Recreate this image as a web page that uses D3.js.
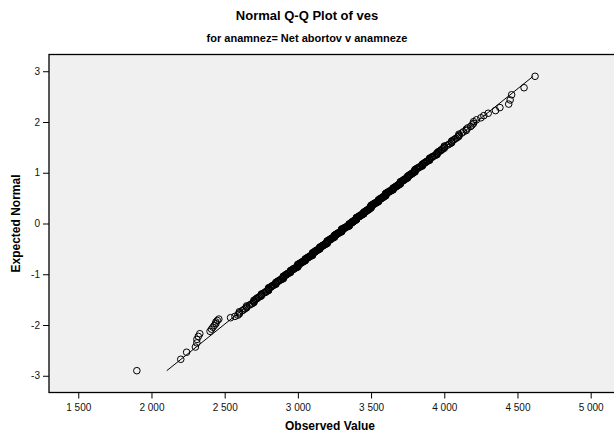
<!DOCTYPE html>
<html>
<head>
<meta charset="utf-8">
<script src="https://cdn.jsdelivr.net/npm/d3@7"></script>
<style>
body { margin: 0; background: #fff; }
text { font-family: Arial, "Liberation Sans", sans-serif; fill: #000; }
.tick text { font-size: 10px; fill: #111; }
.tick line { stroke: #000; }
</style>
</head>
<body>
<svg id="chart" width="614" height="436"></svg>
<script>
// observed birth weights (ves, g) and how often each one occurs
const ves = [
  1900, 2200, 2240, 2300, 2310, 2320, 2330, 2400, 2410, 2420, 2430, 2440, 2450, 2460,
  2540, 2570, 2590,
  2600, 2620, 2630, 2640, 2650, 2670, 2680, 2690,
  2700, 2710, 2720, 2730, 2740, 2750, 2760, 2770, 2780, 2790,
  2800, 2810, 2820, 2830, 2840, 2850, 2860, 2870, 2880, 2890,
  2900, 2910, 2920, 2930, 2940, 2950, 2960, 2970, 2980, 2990,
  3000, 3010, 3020, 3030, 3040, 3050, 3060, 3070, 3080, 3090,
  3100, 3110, 3120, 3130, 3140, 3150, 3160, 3170, 3180, 3190,
  3200, 3210, 3220, 3230, 3240, 3250, 3260, 3270, 3280, 3290,
  3300, 3310, 3320, 3330, 3340, 3350, 3360, 3370, 3380, 3390,
  3400, 3410, 3420, 3430, 3440, 3450, 3460, 3470, 3480, 3490,
  3500, 3510, 3520, 3530, 3540, 3550, 3560, 3570, 3580, 3590,
  3600, 3610, 3620, 3630, 3640, 3650, 3660, 3670, 3680, 3690,
  3700, 3710, 3720, 3730, 3740, 3750, 3760, 3770, 3780, 3790,
  3800, 3810, 3820, 3830, 3840, 3850, 3860, 3870, 3880, 3890,
  3900, 3910, 3920, 3930, 3940, 3950, 3960, 3970, 3980, 3990,
  4000, 4020, 4030, 4040, 4050, 4060, 4070, 4080, 4090,
  4100, 4120, 4130, 4150, 4160, 4180, 4190,
  4200, 4220, 4250, 4270, 4300,
  4350, 4380, 4440, 4450, 4460, 4545, 4620
];
const freq = [
  1, 1, 1, 1, 2, 1, 1, 1, 1, 1, 1, 2, 1, 1,
  1, 1, 1,
  3, 1, 1, 1, 3, 1, 1, 1,
  4, 1, 2, 1, 1, 4, 1, 1, 2, 1,
  6, 1, 2, 2, 1, 5, 2, 2, 2, 1,
  7, 2, 3, 2, 2, 6, 2, 3, 2, 2,
  9, 2, 3, 3, 2, 7, 3, 3, 3, 2,
  10, 3, 4, 3, 3, 8, 3, 4, 3, 3,
  11, 3, 4, 4, 3, 9, 4, 4, 3, 3,
  12, 2, 4, 3, 2, 10, 4, 5, 4, 4,
  10, 3, 4, 4, 3, 8, 4, 4, 4, 5,
  11, 3, 4, 3, 3, 8, 4, 3, 4, 3,
  10, 3, 3, 3, 2, 7, 3, 3, 3, 3,
  8, 2, 3, 3, 2, 6, 3, 2, 3, 2,
  7, 2, 2, 2, 1, 5, 2, 2, 2, 1,
  5, 1, 2, 1, 1, 4, 2, 1, 2, 1,
  4, 1, 1, 1, 3, 1, 1, 1, 1,
  3, 1, 1, 2, 1, 1, 1,
  2, 1, 1, 1, 1,
  1, 1, 1, 1, 1, 1, 1
];
const xTicks = [1500, 2000, 2500, 3000, 3500, 4000, 4500, 5000];
const yTicks = [-3, -2, -1, 0, 1, 2, 3];

const title = "Normal Q-Q Plot of ves";
const subtitle = "for anamnez= Net abortov v anamneze";

// inverse of the standard normal cdf (Acklam)
function qnorm(p) {
    const a = [-3.969683028665376e+01, 2.209460984245205e+02, -2.759285104469687e+02,
               1.383577518672690e+02, -3.066479806614716e+01, 2.506628277459239e+00];
    const b = [-5.447609879822406e+01, 1.615858368580409e+02, -1.556989798598866e+02,
               6.680131188771972e+01, -1.328068155288572e+01];
    const c = [-7.784894002430293e-03, -3.223964580411365e-01, -2.400758277161838e+00,
               -2.549732539343734e+00, 4.374664141464968e+00, 2.938163982698783e+00];
    const d = [7.784695709041462e-03, 3.224671290700398e-01, 2.445134137142996e+00,
               3.754408661907416e+00];
    const plow = 0.02425;
    let q, r;
    if (p < plow) {
        q = Math.sqrt(-2 * Math.log(p));
        return (((((c[0]*q + c[1])*q + c[2])*q + c[3])*q + c[4])*q + c[5]) /
               ((((d[0]*q + d[1])*q + d[2])*q + d[3])*q + 1);
    }
    if (p > 1 - plow) {
        q = Math.sqrt(-2 * Math.log(1 - p));
        return -(((((c[0]*q + c[1])*q + c[2])*q + c[3])*q + c[4])*q + c[5]) /
                ((((d[0]*q + d[1])*q + d[2])*q + d[3])*q + 1);
    }
    q = p - 0.5;
    r = q * q;
    return (((((a[0]*r + a[1])*r + a[2])*r + a[3])*r + a[4])*r + a[5]) * q /
           (((((b[0]*r + b[1])*r + b[2])*r + b[3])*r + b[4])*r + 1);
}

let values = [];
ves.forEach((v, i) => { for (let k = 0; k < freq[i]; k++) values.push(v); });
values.sort((a, b) => a - b);
const n = values.length;
let points = values.map((v, i) => ({ x: v, z: qnorm((i + 1) / (n + 1)) }));

const mean = d3.mean(values);
const sd = d3.deviation(values);
const zExt = d3.extent(points, d => d.z);

const svg = d3.select("#chart");
const plotLeft = 49, plotRight = 617, plotTop = 54.5, plotBottom = 392.5;

const x = d3.scaleLinear().domain([1300, 5160]).range([plotLeft, 614.1]);
const y = d3.scaleLinear().domain([-3.33, 3.33]).range([plotBottom, plotTop]);

const fmt = d3.formatLocale({ decimal: ",", thousands: " ", grouping: [3], currency: ["", ""] }).format(",");

svg.append("rect")
    .attr("x", plotLeft).attr("y", plotTop)
    .attr("width", plotRight - plotLeft).attr("height", plotBottom - plotTop)
    .attr("fill", "#f0f0f0")
    .attr("stroke", "#000")
    .attr("stroke-width", 1.3);

let gx = svg.append("g")
    .attr("class", "axis")
    .attr("transform", `translate(0,${plotBottom})`)
    .call(d3.axisBottom(x).tickValues(xTicks).tickSize(6).tickPadding(5).tickFormat(fmt));
gx.select(".domain").remove();

let gy = svg.append("g")
    .attr("class", "axis")
    .attr("transform", `translate(${plotLeft},0)`)
    .call(d3.axisLeft(y).tickValues(yTicks).tickSize(6).tickPadding(3).tickFormat(d3.format("d")));
gy.select(".domain").remove();
gy.selectAll(".tick text").text(d => d < 0 ? "-" + Math.abs(d) : d);

// reference line
svg.append("line")
    .attr("x1", x(mean + sd * zExt[0])).attr("y1", y(zExt[0]))
    .attr("x2", x(mean + sd * zExt[1])).attr("y2", y(zExt[1]))
    .attr("stroke", "#000")
    .attr("stroke-width", 1);

svg.append("g")
    .selectAll("circle")
    .data(points)
    .enter()
    .append("circle")
        .attr("cx", d => x(d.x))
        .attr("cy", d => y(d.z))
        .attr("r", 3.3)
        .attr("fill", "none")
        .attr("stroke", "#000")
        .attr("stroke-width", 1);

svg.append("text")
    .attr("x", 307).attr("y", 20)
    .attr("text-anchor", "middle")
    .style("font-size", "13px").style("font-weight", "bold")
    .text(title);
svg.append("text")
    .attr("x", 307).attr("y", 42)
    .attr("text-anchor", "middle")
    .style("font-size", "11px").style("font-weight", "bold")
    .text(subtitle);

svg.append("text")
    .attr("x", 330).attr("y", 430)
    .attr("text-anchor", "middle")
    .style("font-size", "12px").style("font-weight", "bold")
    .text("Observed Value");
svg.append("text")
    .attr("transform", `translate(20,${y(0)}) rotate(-90)`)
    .attr("text-anchor", "middle")
    .style("font-size", "12px").style("font-weight", "bold")
    .text("Expected Normal");
</script>
</body>
</html>
